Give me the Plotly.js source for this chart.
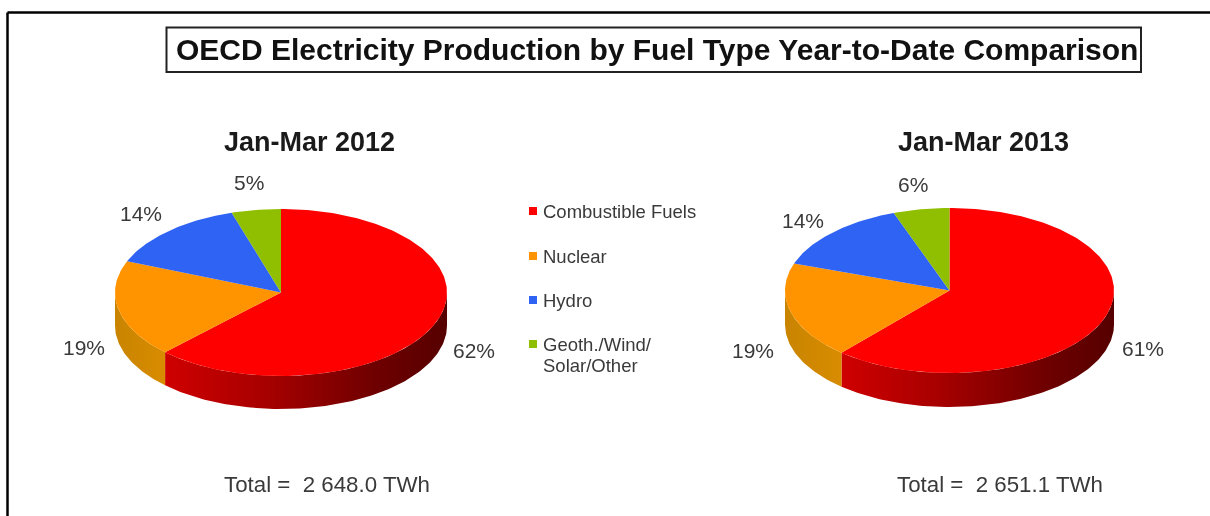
<!DOCTYPE html>
<html><head><meta charset="utf-8">
<script src="https://cdn.plot.ly/plotly-3.0.1.min.js"></script>
<style>html,body{margin:0;padding:0;background:#fff;overflow:hidden}#c{width:1210px;height:516px;filter:blur(0.45px)}</style>
</head><body><div id="c"></div>
<script>
const categories = ["Combustible Fuels","Nuclear","Hydro","Geoth./Wind/<br>Solar/Other"];
const values2012 = [62.3,18.8,14.1,4.8];
const values2013 = [61.4,18.9,14.2,5.5];
const pieTitles = ["Jan-Mar 2012","Jan-Mar 2013"];
const totals = ["Total =  2 648.0 TWh","Total =  2 651.1 TWh"];
const chartTitle = "OECD Electricity Production by Fuel Type Year-to-Date Comparison";

const W=1210,H=516;
const colors=["#fe0000","#ff9400","#2f63f4","#8fbf00"];
const wallScales=[
  [[0,"#cf0000"],[0.35,"#a80000"],[0.75,"#6e0000"],[1,"#560000"]],
  [[0,"#c98400"],[1,"#d88c00"]]
];
const FONT='"Liberation Sans", Arial, sans-serif';
const TEXT="#3a3a3a";
const geom=[
 {cx:281,cy:292.5,rx:166,ry:83.5,depth:33},
 {cx:949.5,cy:290.5,rx:164.5,ry:82.5,depth:34}
];
const labelPos=[
 [[474,350],[84,347],[141,213],[249,183]],
 [[1143,348],[752.5,350],[802.5,220],[913,185]]
];
const data=[],ann=[];
function arc(a0,a1,dy){
  const xs=[],ys=[];const n=Math.max(2,Math.ceil((a1-a0)*180/Math.PI));
  for(let i=0;i<=n;i++){const a=a0+(a1-a0)*i/n;xs.push(Math.sin(a));ys.push(Math.cos(a)-dy);}
  return [xs,ys];
}
function buildPie(vals,k){
  const g=geom[k],ax=k?"2":"";
  const dy=g.depth/g.ry;
  const sum=vals.reduce((a,b)=>a+b,0);
  let a=0;const spans=vals.map(v=>{const s=[a,a+v/sum*2*Math.PI];a=s[1];return s;});
  // front-facing side walls (angles between 90 and 270 degrees clockwise from top)
  spans.forEach((s,i)=>{
    const a0=Math.max(s[0],Math.PI/2),a1=Math.min(s[1],1.5*Math.PI);
    if(a1<=a0)return;
    const t=arc(a0,a1,0),b=arc(a0,a1,dy);
    data.push({type:"scatter",mode:"lines",xaxis:"x"+ax,yaxis:"y"+ax,
      x:t[0].concat(b[0].slice().reverse()),y:t[1].concat(b[1].slice().reverse()),
      fill:"toself",line:{width:0},hoverinfo:"skip",showlegend:false,
      fillcolor:colors[i],
      fillgradient:{type:"horizontal",colorscale:wallScales[i]}
    });
  });
  // top-face slices
  spans.forEach((s,i)=>{
    const t=arc(s[0],s[1],0);
    data.push({type:"scatter",mode:"lines",xaxis:"x"+ax,yaxis:"y"+ax,
      x:[0].concat(t[0],[0]),y:[0].concat(t[1],[0]),
      fill:"toself",fillcolor:colors[i],line:{width:0},
      name:categories[i].replace("<br>"," "),text:Math.round(vals[i])+"%",hoverinfo:"name+text",showlegend:false});
    const p=labelPos[k][i];
    ann.push({xref:"paper",yref:"paper",x:p[0]/W,y:1-p[1]/H,text:Math.round(vals[i])+"%",showarrow:false,
      xanchor:"center",yanchor:"middle",font:{family:FONT,size:21,color:TEXT}});
  });
}
buildPie(values2012,0);
buildPie(values2013,1);

function axes(g){
  const top=g.cy-g.ry-4,bot=g.cy+g.ry+g.depth+4;
  return {
    x:{domain:[(g.cx-g.rx)/W,(g.cx+g.rx)/W],range:[-1,1],visible:false,fixedrange:true},
    y:{domain:[1-bot/H,1-top/H],range:[(g.cy-bot)/g.ry,(g.cy-top)/g.ry],visible:false,fixedrange:true}
  };
}
const a1=axes(geom[0]),a2=axes(geom[1]);

// legend: squares on a page-wide hidden axis
const legendY=[211,256,300,344];
const legendLineGap=21.5;
categories.forEach((c,i)=>{
  data.push({type:"scatter",mode:"markers",xaxis:"x3",yaxis:"y3",x:[533],y:[legendY[i]],
    marker:{symbol:"square",size:8,color:colors[i]},name:c.replace("<br>"," "),hoverinfo:"name",showlegend:false});
  c.split("<br>").forEach((line,j)=>ann.push({xref:"paper",yref:"paper",x:540.5/W,y:1-(legendY[i]+j*legendLineGap)/H,text:line,showarrow:false,
    xanchor:"left",yanchor:"middle",align:"left",font:{family:FONT,size:18.5,color:TEXT}}));
});

pieTitles.forEach((t,i)=>ann.push({xref:"paper",yref:"paper",x:[309,983][i]/W,y:1-142/H,text:"<b>"+t+"</b>",showarrow:false,
  xanchor:"center",yanchor:"middle",font:{family:FONT,size:27,color:"#1a1a1a"}}));
totals.forEach((t,i)=>ann.push({xref:"paper",yref:"paper",x:[326.5,999.5][i]/W,y:1-484/H,text:t.replace("=  ","=&nbsp;&nbsp;"),showarrow:false,
  xanchor:"center",yanchor:"middle",font:{family:FONT,size:22.3,color:TEXT}}));
ann.push({xref:"paper",yref:"paper",x:656.5/W,y:1-50/H,text:"<b>"+chartTitle+"</b>",showarrow:false,
  xanchor:"center",yanchor:"middle",font:{family:FONT,size:30,color:"#111"}});

const layout={
  width:W,height:H,margin:{l:0,r:0,t:0,b:0},paper_bgcolor:"#fff",plot_bgcolor:"rgba(0,0,0,0)",showlegend:false,
  xaxis:a1.x,yaxis:a1.y,xaxis2:Object.assign(a2.x,{anchor:"y2"}),yaxis2:Object.assign(a2.y,{anchor:"x2"}),
  xaxis3:{domain:[0,1],range:[0,W],visible:false,anchor:"y3",fixedrange:true},
  yaxis3:{domain:[0,1],range:[H,0],visible:false,anchor:"x3",fixedrange:true},
  annotations:ann,
  shapes:[
    {type:"line",xref:"paper",yref:"paper",x0:7.5/W,x1:1,y0:1-12.5/H,y1:1-12.5/H,line:{color:"#000",width:2.5}},
    {type:"line",xref:"paper",yref:"paper",x0:7.5/W,x1:7.5/W,y0:0,y1:1-12.5/H,line:{color:"#000",width:2.5}},
    {type:"rect",xref:"paper",yref:"paper",x0:166.5/W,x1:1141/W,y0:1-72/H,y1:1-27.5/H,line:{color:"#222",width:2},fillcolor:"rgba(0,0,0,0)"}
  ]
};
Plotly.newPlot("c",data,layout,{displayModeBar:false,responsive:false});
</script></body></html>
